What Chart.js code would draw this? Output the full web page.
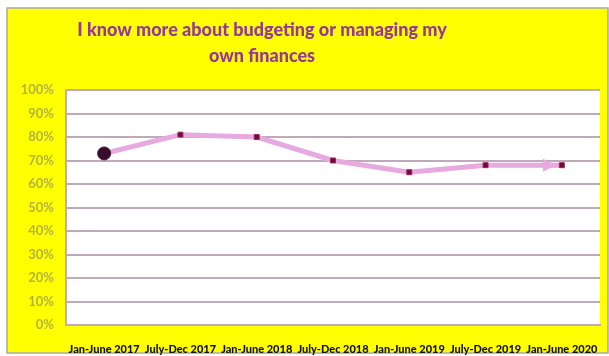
<!DOCTYPE html>
<html>
<head>
<meta charset="utf-8">
<script src="https://cdn.jsdelivr.net/npm/chart.js@4"></script>
<style>
  html, body { margin: 0; padding: 0; background: #fff; }
  #wrap { width: 609px; height: 356px; }
</style>
</head>
<body>
<div id="wrap"><canvas id="myChart" width="609" height="356"></canvas></div>
<script>
"use strict";
var periods = [
  "Jan-June 2017", "July-Dec 2017", "Jan-June 2018", "July-Dec 2018",
  "Jan-June 2019", "July-Dec 2019", "Jan-June 2020"
];
var agreePct = [73, 81, 80, 70, 65, 68, 68];
var titleLines = ["I know more about budgeting or managing my", "own finances"];

var font = "Lato, 'Open Sans', sans-serif";

// yellow panel + white plot area behind everything
var backdrop = {
  id: "backdrop",
  beforeDraw: function (chart) {
    var c = chart.ctx, a = chart.chartArea;
    c.save();
    c.fillStyle = "#ffffff";
    c.fillRect(0, 0, chart.width, chart.height);
    c.fillStyle = "#ffff00";
    c.fillRect(7, 8, 601, 345);
    c.strokeStyle = "#a8a8a8";
    c.lineWidth = 1.5;
    c.strokeRect(7, 8, 601, 345);
    c.fillStyle = "#ffffff";
    c.fillRect(a.left, a.top, a.right - a.left, a.bottom - a.top);
    c.restore();
  },
  afterDraw: function (chart) {
    var c = chart.ctx;
    c.save();
    c.fillStyle = "#973796";
    c.font = "900 18px " + font;
    c.textAlign = "center";
    c.fillText(titleLines[0], 262, 36);
    c.fillText(titleLines[1], 262, 62);
    c.restore();
  }
};

// arrow head on the last segment of the line
var arrowHead = {
  id: "arrowHead",
  afterDatasetsDraw: function (chart) {
    var pts = chart.getDatasetMeta(0).data;
    var p0 = pts[pts.length - 2], p1 = pts[pts.length - 1];
    var ang = Math.atan2(p1.y - p0.y, p1.x - p0.x);
    var c = chart.ctx;
    c.save();
    c.translate(p1.x, p1.y);
    c.rotate(ang);
    c.fillStyle = "#e6a9e0";
    c.beginPath();
    c.moveTo(-6, 0);
    c.lineTo(-19, -6.5);
    c.lineTo(-19, 6.5);
    c.closePath();
    c.fill();
    c.restore();
  }
};

var ctx = document.getElementById("myChart");
var myLineChart = new Chart(ctx, {
  type: "line",
  data: {
    labels: periods,
    datasets: [
      {
        data: agreePct,
        borderColor: "#e6a9e0",
        borderWidth: 5,
        tension: 0,
        pointStyle: ["circle", "rect", "rect", "rect", "rect", "rect", "rect"],
        pointRadius: [6.5, 3.5, 3.5, 3.5, 3.5, 3.5, 3.5],
        pointBackgroundColor: ["#3a0c2c", "#6e0a36", "#6e0a36", "#6e0a36", "#6e0a36", "#6e0a36", "#6e0a36"],
        pointBorderColor: ["#4a1a3a", "#9a2a5a", "#9a2a5a", "#9a2a5a", "#9a2a5a", "#9a2a5a", "#9a2a5a"],
        pointBorderWidth: 1,
      },
    ],
  },
  options: {
    responsive: false,
    animation: false,
    layout: { padding: { left: 0, right: 9, top: 90, bottom: 0 } },
    plugins: {
      legend: { display: false },
      tooltip: { enabled: false },
    },
    scales: {
      x: {
        offset: true,
        grid: { display: false },
        border: { display: true, color: "#bfa9ba", width: 2 },
        ticks: {
          autoSkip: false,
          maxRotation: 0,
          padding: 10,
          color: "#111111",
          font: { family: font, size: 11, weight: "900" },
        },
        afterFit: function (s) { s.height = 31; },
      },
      y: {
        min: 0,
        max: 100,
        grid: { color: "#bfa9ba", lineWidth: 2, drawTicks: false },
        border: { display: true, color: "#bfa9ba", width: 2 },
        ticks: {
          stepSize: 10,
          padding: 12,
          color: "#b3b33c",
          font: { family: font, size: 13, weight: "bold" },
          callback: function (v) { return v + "%"; },
        },
        afterFit: function (s) { s.width = 66; },
      },
    },
  },
  plugins: [backdrop, arrowHead],
});
</script>
</body>
</html>
